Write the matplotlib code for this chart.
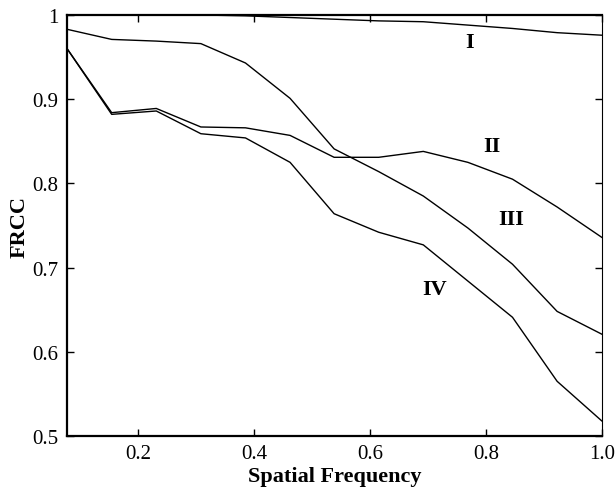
import numpy as np
import matplotlib
matplotlib.use('Agg')
import matplotlib.pyplot as plt

plt.rcParams['font.family'] = ['Liberation Serif', 'DejaVu Serif']

# spatial frequency samples (k/13)
freq = [0.077, 0.154, 0.231, 0.308, 0.385, 0.462, 0.538,
        0.615, 0.692, 0.769, 0.846, 0.923, 1.0]

frcc_I = [1.0, 1.0, 1.0, 1.0, 0.999, 0.997, 0.995,
          0.993, 0.992, 0.988, 0.984, 0.979, 0.976]
frcc_II = [0.960, 0.884, 0.889, 0.867, 0.866, 0.857, 0.831,
           0.831, 0.838, 0.825, 0.805, 0.772, 0.736]
frcc_III = [0.983, 0.971, 0.969, 0.966, 0.943, 0.901, 0.841,
            0.814, 0.785, 0.747, 0.704, 0.648, 0.621]
frcc_IV = [0.960, 0.882, 0.886, 0.859, 0.854, 0.825, 0.764,
           0.742, 0.727, 0.684, 0.641, 0.565, 0.518]

series = [frcc_I, frcc_II, frcc_III, frcc_IV]
names = ['I', 'II', 'III', 'IV']
label_pos = [(0.772, 0.968), (0.811, 0.844), (0.844, 0.758), (0.711, 0.675)]

xticks = [0.2, 0.4, 0.6, 0.8, 1.0]
xticklabels = ['0.2', '0.4', '0.6', '0.8', '1.0']
yticks = [0.5, 0.6, 0.7, 0.8, 0.9, 1.0]
yticklabels = ['0.5', '0.6', '0.7', '0.8', '0.9', '1']

fig = plt.figure(figsize=(6.16, 4.89), dpi=100)
ax = fig.add_axes([0.1088, 0.1063, 0.868, 0.861])

for vals in series:
    ax.plot(freq, vals, color='black', lw=1.0)

for name, (tx, ty) in zip(names, label_pos):
    ax.text(tx, ty, name, fontsize=16, fontweight='bold', ha='center', va='center')

ax.set_xlim(0.0769, 1.0)
ax.set_ylim(0.5, 1.0)
ax.set_xticks(xticks)
ax.set_xticklabels(xticklabels)
ax.set_yticks(yticks)
ax.set_yticklabels(yticklabels)
ax.tick_params(direction='in', length=5, width=1, labelsize=15,
               top=True, right=True, pad=6)

for side in ['left', 'bottom', 'top']:
    ax.spines[side].set_linewidth(1.6)
ax.spines['right'].set_linewidth(0.8)

ax.set_xlabel('Spatial Frequency', fontsize=16, fontweight='bold', labelpad=2)
ax.set_ylabel('FRCC', fontsize=16, fontweight='bold', labelpad=2)

fig.savefig('out.png', dpi=100)
